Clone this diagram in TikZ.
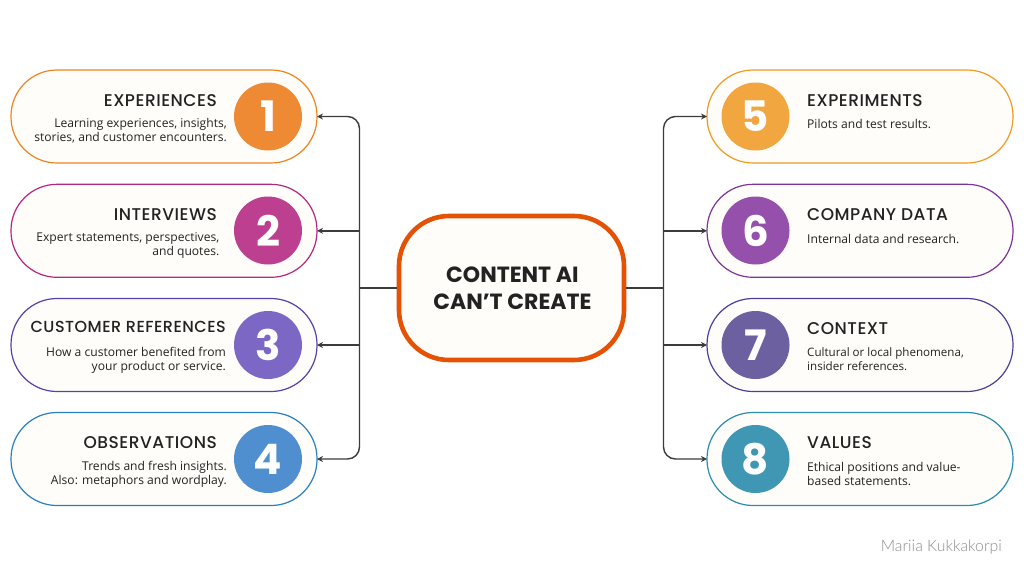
\documentclass[tikz,border=0pt]{standalone}
\usepackage{fontspec}
\setmainfont{Open Sans}
\newfontfamily\headfont{Poppins}[UprightFont=* Medium,LetterSpace=3]
\newfontfamily\numfont{Poppins}[UprightFont=* Bold]
\newfontfamily\titlefont{Poppins}[UprightFont=* Bold]
\newfontfamily\signfont{Lato}[UprightFont=* Light]
\usetikzlibrary{arrows.meta}
\definecolor{cardfill}{HTML}{FEFDFA}
\definecolor{ink}{HTML}{222222}
\definecolor{wire}{HTML}{3C3C3C}
\definecolor{ca}{HTML}{EE8A33}\definecolor{cab}{HTML}{EE8420}
\definecolor{cb}{HTML}{BC3F90}\definecolor{cbb}{HTML}{B5267F}
\definecolor{cc}{HTML}{7D67C4}\definecolor{ccb}{HTML}{5A3FA8}
\definecolor{cd}{HTML}{4F8FCF}\definecolor{cdb}{HTML}{2A7FBF}
\definecolor{ce}{HTML}{F2A640}\definecolor{ceb}{HTML}{F09A20}
\definecolor{cf}{HTML}{9550AC}\definecolor{cfb}{HTML}{7E3398}
\definecolor{cg}{HTML}{6C60A0}\definecolor{cgb}{HTML}{4E3E98}
\definecolor{ch}{HTML}{3F97B3}\definecolor{chb}{HTML}{2A8CAE}
\definecolor{centerb}{HTML}{E35205}
\tikzset{
  pill/.style={draw,fill=cardfill,line width=1.2pt,rounded corners=46pt,minimum width=306pt,minimum height=93pt,inner sep=0pt,outer sep=0pt},
  badge/.style={circle,fill=#1,minimum size=68pt,inner sep=0pt,text=white,font=\numfont\fontsize{42}{42}\selectfont},
  head/.style={text=ink,font=\headfont\fontsize{17}{18}\selectfont,inner sep=0pt},
  bodyr/.style={text=ink,font=\fontsize{12.1}{14}\selectfont,align=right,anchor=east,inner sep=0pt},
  bodyl/.style={text=ink,font=\fontsize{12.1}{14}\selectfont,align=left,anchor=west,inner sep=0pt},
  wireline/.style={draw=wire,line width=1.4pt,rounded corners=12pt},
  arr/.style={wireline,-{Stealth[length=6pt,width=6pt]}}
}
\begin{document}
\begin{tikzpicture}[x=1pt,y=-1pt]
\useasboundingbox (0,0) rectangle (1024,576);
\fill[white] (0,0) rectangle (1024,576);
% cards
\node[pill,draw=cab] (p1) at (164,116.5) {};
\node[pill,draw=cbb] (p2) at (164,230.8) {};
\node[pill,draw=ccb] (p3) at (164,345) {};
\node[pill,draw=cdb] (p4) at (164,459) {};
\node[pill,draw=ceb] (p5) at (860,116.5) {};
\node[pill,draw=cfb] (p6) at (860,230.8) {};
\node[pill,draw=cgb] (p7) at (860,345) {};
\node[pill,draw=chb] (p8) at (860,459) {};
% centre
\node[draw=centerb,fill=cardfill,line width=4.6pt,rounded corners=50pt,minimum width=225pt,minimum height=144pt,inner sep=0pt,outer sep=2.3pt] (c) at (511.5,288) {};
\node[text=ink,align=center,inner sep=0pt,font=\titlefont\fontsize{22}{27}\selectfont] (t) at (512.4,288) {CONTENT AI\\CAN’T CREATE};
% badges
\node[badge=ca] (n1) at (268,116.5) {1};
\node[badge=cb] (n2) at (268,230.5) {2};
\node[badge=cc] (n3) at (268,345) {3};
\node[badge=cd] (n4) at (268,459) {4};
\node[badge=ce] (n5) at (755.5,116.5) {5};
\node[badge=cf] (n6) at (755.5,230.5) {6};
\node[badge=cg] (n7) at (755.5,345) {7};
\node[badge=ch] (n8) at (755.5,459) {8};
% left text
\node[head,anchor=east] (h1) at (217,100.5) {EXPERIENCES};
\node[bodyr] (b1) at (227,131) {Learning experiences, insights,\\stories, and customer encounters.};
\node[head,anchor=east] (h2) at (217,214.5) {INTERVIEWS};
\node[bodyr] (b2) at (219.5,245.5) {Expert statements, perspectives,\\and quotes.};
\node[head,anchor=east,font=\headfont\fontsize{16}{18}\selectfont] (h3) at (226,326.5) {CUSTOMER REFERENCES};
\node[bodyr] (b3) at (226,360) {How a customer benefited from\\your product or service.};
\node[head,anchor=east] (h4) at (217,442.5) {OBSERVATIONS};
\node[bodyr] (b4) at (227,474) {Trends and fresh insights.\\Also: metaphors and wordplay.};
% right text
\node[head,anchor=west] (h5) at (807,100.5) {EXPERIMENTS};
\node[bodyl] (b5) at (807,124) {Pilots and test results.};
\node[head,anchor=west] (h6) at (807,214.5) {COMPANY DATA};
\node[bodyl] (b6) at (807,238.5) {Internal data and research.};
\node[head,anchor=west] (h7) at (807,328.5) {CONTEXT};
\node[bodyl,font=\fontsize{11.6}{14}\selectfont] (b7) at (807,359) {Cultural or local phenomena,\\insider references.};
\node[head,anchor=west] (h8) at (807,442.5) {VALUES};
\node[bodyl] (b8) at (807,474) {Ethical positions and value-\\based statements.};
\node[anchor=east,inner sep=0pt,text=black!45,font=\signfont\fontsize{15.8}{16}\selectfont] (sig) at (1002,547) {Mariia Kukkakorpi};
% connectors
\coordinate (hl) at (359.5,288);
\coordinate (hr) at (663.5,288);
\draw[wireline] (c.west) -- (hl);
\draw[wireline] (c.east) -- (hr);
\foreach \t in {p1,p4} \draw[arr] (hl) |- (\t.east);
\foreach \t in {p5,p8} \draw[arr] (hr) |- (\t.west);
\foreach \t in {p2,p3} \draw[arr] (hl |- \t.east) -- (\t.east);
\foreach \t in {p6,p7} \draw[arr] (hr |- \t.west) -- (\t.west);
\end{tikzpicture}
\end{document}
